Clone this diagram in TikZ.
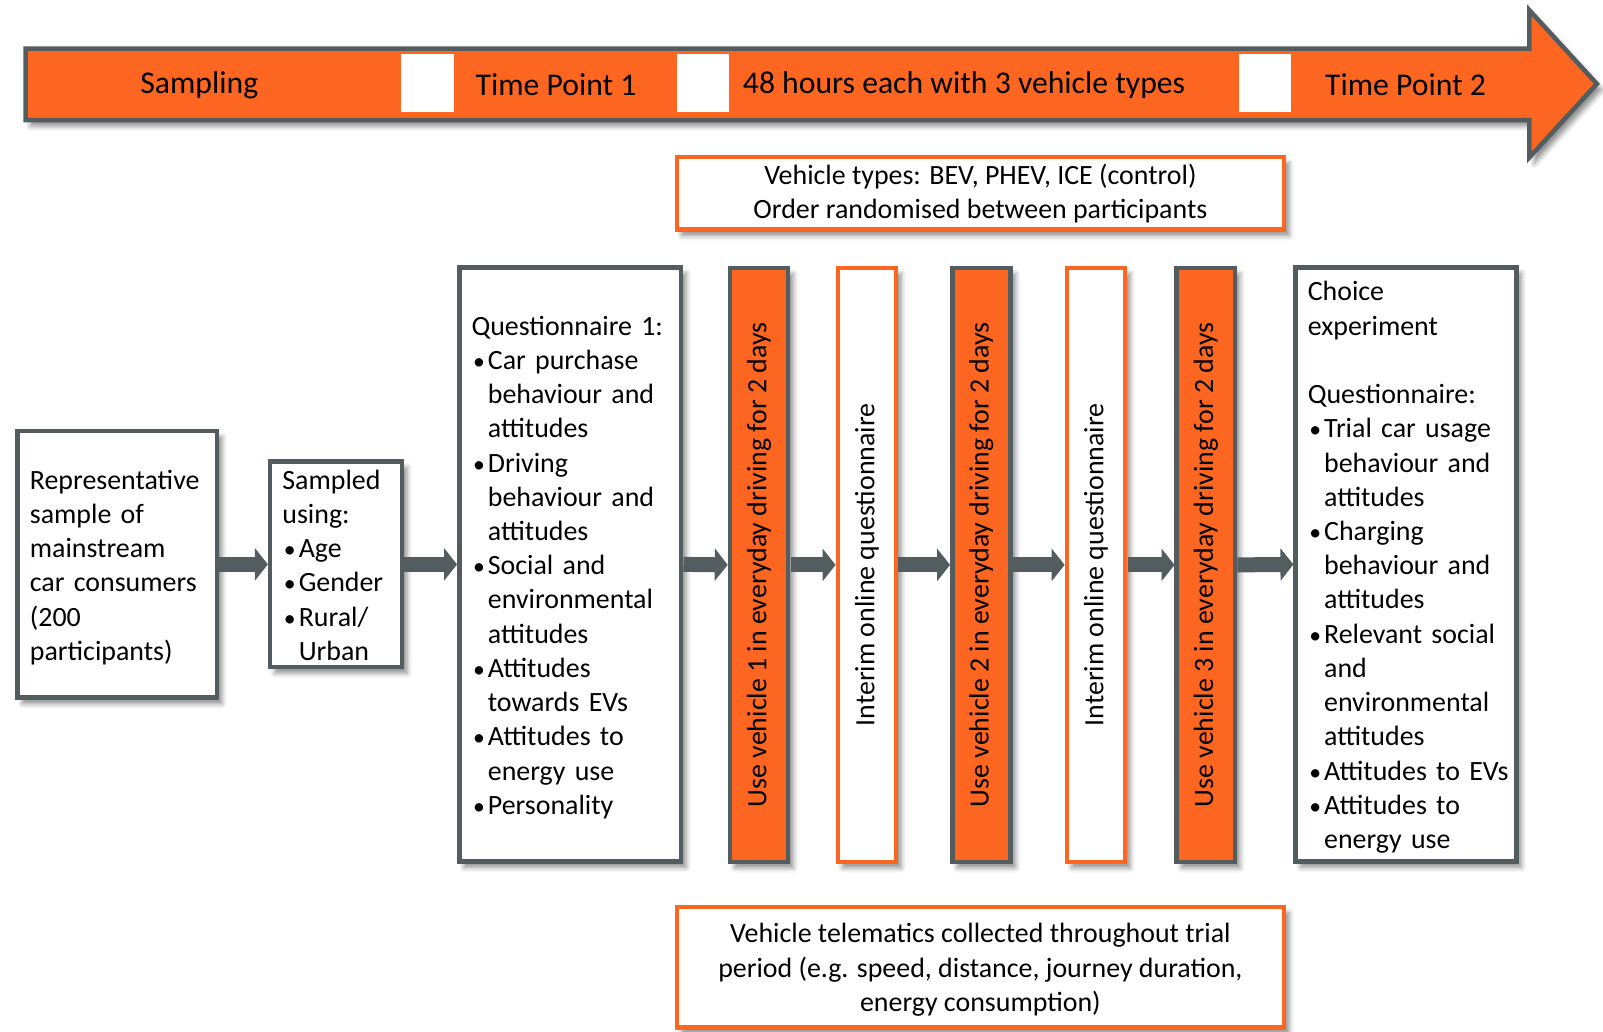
\documentclass[tikz,border=0pt]{standalone}
\usepackage{fontspec}
\setmainfont{Carlito}
\usetikzlibrary{arrows.meta,shadows.blur}
\definecolor{orng}{RGB}{253,102,32}
\definecolor{gry}{RGB}{83,93,96}
\newcommand\bl{\makebox[16pt][l]{\hspace{1.5pt}\scalebox{0.85}{\textbullet}}}
\newcommand\ti{\hspace*{16pt}}
\newcommand\stk[1]{\raisebox{-3.5pt}[\height][\depth]{\begin{tabular}{@{}l@{}}#1\end{tabular}}}
\tikzset{
  shdw/.style={blur shadow={shadow xshift=5pt,shadow yshift=-6pt,shadow blur radius=5pt,shadow opacity=45}},
  txt/.style={font=\fontsize{27.3}{33.5}\selectfont},
  box/.style={draw=gry,line width=4.5pt,fill=white,shdw,txt,inner xsep=12pt,inner ysep=0pt},
  drv/.style={draw=gry,fill=orng,line width=4.5pt,shdw,txt,minimum width=57pt,minimum height=581pt,inner sep=0pt},
  intr/.style={drv,draw=orng,fill=white},
  note/.style={draw=orng,line width=4.5pt,fill=white,shdw,txt,minimum width=594pt,align=center,inner sep=0pt},
  lbl/.style={font=\fontsize{31}{36}\selectfont},
  flow/.style={draw=gry,line width=15pt,-{Triangle[length=13pt,width=32pt]}}
}
\begin{document}
\begin{tikzpicture}[x=1pt,y=-1pt]
\useasboundingbox (0,0) rectangle (1603,1031);
\begin{scope}[scale=1.0223,every node/.append style={transform shape}]
% time line
\draw[draw=gry,fill=orng,line width=4.5pt,shdw] (25,47.5) -- (1496,47.5) -- (1496,10) -- (1562,82) -- (1496,154) -- (1496,117.5) -- (25,117.5) -- cycle;
\fill[white] (392,53) rectangle (444,110);
\fill[white] (662,53) rectangle (713,110);
\fill[white] (1212,53) rectangle (1263,110);
\node[lbl] (smp) at (195,83) {Sampling};
\node[lbl] (tp1) at (544,83) {Time Point 1};
\node[lbl] (hrs) at (943,83) {48 hours each with 3 vehicle types};
\node[lbl] (tp2) at (1375,83) {Time Point 2};
% notes
\node[note,minimum height=71pt] (types) at (959,189) {Vehicle types: BEV, PHEV, ICE (control)\\Order randomised between participants};
\node[note,minimum height=118pt] (tele) at (959,946) {\raisebox{-3pt}[\height][\depth]{\begin{tabular}{@{}c@{}}Vehicle telematics collected throughout trial\\period (e.g. speed, distance, journey duration,\\energy consumption)\end{tabular}}};
% steps
\node[box,text width=171pt,minimum height=261pt,anchor=west] (rep) at (15,552) {\stk{Representative\\sample of\\mainstream\\car consumers\\(200\\participants)}};
\node[box,text width=105pt,minimum height=201pt,anchor=west] (sel) at (262,552) {\stk{Sampled\\using:\\\bl Age\\\bl Gender\\\bl Rural/\\\ti Urban}};
\node[box,text width=193pt,minimum height=581pt,anchor=west] (q1) at (447,552) {\stk{Questionnaire 1:\\\bl Car purchase\\\ti behaviour and\\\ti attitudes\\\bl Driving\\\ti behaviour and\\\ti attitudes\\\bl Social and\\\ti environmental\\\ti attitudes\\\bl Attitudes\\\ti towards EVs\\\bl Attitudes to\\\ti energy use\\\bl Personality}};
\node[drv] (v1) at (742.5,552.5) {\rotatebox{90}{Use vehicle 1 in everyday driving for 2 days}};
\node[intr] (i1) at (848,552.5) {\rotatebox{90}{Interim online questionnaire}};
\node[drv] (v2) at (960,552.5) {\rotatebox{90}{Use vehicle 2 in everyday driving for 2 days}};
\node[intr] (i2) at (1072,552.5) {\rotatebox{90}{Interim online questionnaire}};
\node[drv] (v3) at (1179.5,552.5) {\rotatebox{90}{Use vehicle 3 in everyday driving for 2 days}};
\node[box,text width=192pt,minimum height=581pt,anchor=west] (q2) at (1265,552) {\stk{Choice\\experiment\\ \\Questionnaire:\\\bl Trial car usage\\\ti behaviour and\\\ti attitudes\\\bl Charging\\\ti behaviour and\\\ti attitudes\\\bl Relevant social\\\ti and\\\ti environmental\\\ti attitudes\\\bl Attitudes to EVs\\\bl Attitudes to\\\ti energy use}};
% arrows
\draw[flow] (rep.east) -- (sel.west);
\draw[flow] (sel.east) -- (q1.west);
\draw[flow] (q1.east) -- (v1.west);
\draw[flow] (v1.east) -- (i1.west);
\draw[flow] (i1.east) -- (v2.west);
\draw[flow] (v2.east) -- (i2.west);
\draw[flow] (i2.east) -- (v3.west);
\draw[flow] (v3.east) -- (q2.west);
\end{scope}
\end{tikzpicture}
\end{document}
